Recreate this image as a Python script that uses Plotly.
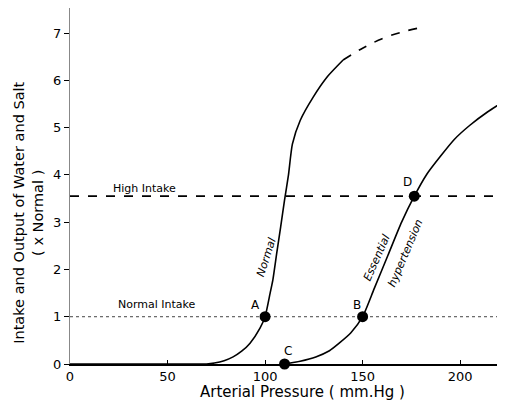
import plotly.graph_objects as go

# Data
normal_x = [0, 40, 70, 74, 79, 83.6, 88, 92.3, 97.4, 100, 102.6, 104, 106, 108, 110, 112, 114, 118, 124.6, 132, 140]
normal_y = [0, 0, 0, 0.02, 0.07, 0.15, 0.27, 0.44, 0.76, 1.0, 1.5, 1.78, 2.35, 2.9, 3.47, 4.0, 4.65, 5.15, 5.64, 6.08, 6.43]
normal_ext_x = [140, 150, 160, 170, 178]
normal_ext_y = [6.43, 6.68, 6.88, 7.02, 7.1]
hyp_x = [110, 118, 126, 133, 138, 144, 150, 156, 163, 170, 176.5, 183, 190, 197, 205, 214, 225]
hyp_y = [0, 0.06, 0.15, 0.28, 0.44, 0.66, 1.0, 1.6, 2.3, 3.0, 3.55, 4.02, 4.4, 4.75, 5.05, 5.33, 5.62]
high_intake = 3.55
normal_intake = 1.0
points_label = ["A", "B", "C", "D"]
points_x = [100, 150, 110, 176.5]
points_y = [1.0, 1.0, 0.0, 3.55]
x_ticks = [0, 50, 100, 150, 200]
y_ticks = [0, 1, 2, 3, 4, 5, 6, 7]

FONT = "DejaVu Sans"
fig = go.Figure()

fig.add_trace(go.Scatter(x=[0, 230], y=[high_intake, high_intake], mode="lines",
                         line=dict(color="black", width=1.6, dash="dash"), showlegend=False))
fig.add_trace(go.Scatter(x=[0, 230], y=[normal_intake, normal_intake], mode="lines",
                         line=dict(color="#444", width=1, dash="dot"), showlegend=False))
fig.add_trace(go.Scatter(x=normal_x, y=normal_y, mode="lines",
                         line=dict(color="black", width=1.6, shape="spline", smoothing=0.6), showlegend=False))
fig.add_trace(go.Scatter(x=normal_ext_x, y=normal_ext_y, mode="lines",
                         line=dict(color="black", width=1.6, dash="dash", shape="spline"), showlegend=False))
fig.add_trace(go.Scatter(x=hyp_x, y=hyp_y, mode="lines",
                         line=dict(color="black", width=1.6, shape="spline", smoothing=0.6), showlegend=False))
fig.add_trace(go.Scatter(x=points_x, y=points_y, mode="markers", marker=dict(color="black", size=11),
                         cliponaxis=False, showlegend=False))

ann = []
label_off = {"A": (95, 1.25), "B": (147, 1.25), "C": (112, 0.27), "D": (173, 3.85)}
for lab in points_label:
    ax, ay = label_off[lab]
    ann.append(dict(x=ax, y=ay, xref="x", yref="y", text=lab, showarrow=False,
                    font=dict(size=12, color="black", family=FONT)))
ann += [
    dict(x=38, y=3.72, xref="x", yref="y", text="High Intake", showarrow=False,
         font=dict(size=11, color="black", family=FONT)),
    dict(x=44.5, y=1.25, xref="x", yref="y", text="Normal Intake", showarrow=False,
         font=dict(size=11, color="black", family=FONT)),
    dict(x=100.5, y=2.26, xref="x", yref="y", text="<i>Normal</i>", textangle=-72, showarrow=False,
         font=dict(size=11, color="black", family=FONT)),
    dict(x=157, y=2.24, xref="x", yref="y", text="<i>Essential</i>", textangle=-66, showarrow=False,
         font=dict(size=11, color="black", family=FONT)),
    dict(x=172, y=2.33, xref="x", yref="y", text="<i>hypertension</i>", textangle=-67, showarrow=False,
         font=dict(size=11, color="black", family=FONT)),
    dict(x=119, xref="x", y=-0.079, yref="paper", text="Arterial Pressure ( mm.Hg )", showarrow=False,
         xanchor="center", yanchor="middle", font=dict(size=15, color="black", family=FONT)),
    dict(x=-0.094, xref="paper", y=3.2, yref="y", text="Intake and Output of Water and Salt<br>( x Normal )",
         textangle=-90, xanchor="center", yanchor="middle", showarrow=False,
         font=dict(size=14.5, color="black", family=FONT)),
]

fig.update_layout(
    width=497, height=394,
    margin=dict(l=62, r=0, t=0, b=38),
    plot_bgcolor="white", paper_bgcolor="white",
    annotations=ann,
    font=dict(family=FONT, color="black"),
)
fig.update_xaxes(range=[0, 223], tickvals=x_ticks, showgrid=False, zeroline=False,
                 showline=True, linecolor="black", linewidth=1.5, ticks="inside", ticklen=4,
                 tickcolor="black", tickfont=dict(size=13, family=FONT))
fig.update_yaxes(range=[0, 7.53], tickvals=y_ticks, showgrid=False, zeroline=False,
                 showline=True, linecolor="#888", linewidth=1, ticks="outside", ticklen=5,
                 tickcolor="black", tickfont=dict(size=13, family=FONT))
fig.write_html("out.html")
